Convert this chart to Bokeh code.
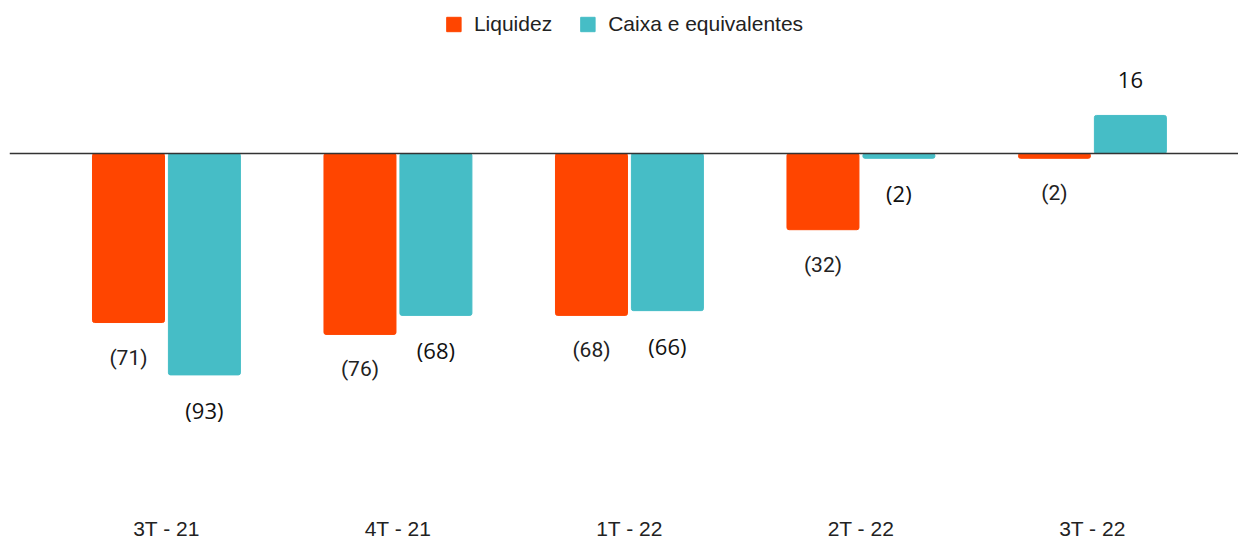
from bokeh.plotting import figure
from bokeh.models import ColumnDataSource, Span, Range1d, FixedTicker, Legend, LegendItem
from bokeh.core.properties import value
from bokeh.embed import file_html
from bokeh.resources import INLINE

categories = ["3T - 21", "4T - 21", "1T - 22", "2T - 22", "3T - 22"]
liquidez = [-71, -76, -68, -32, -2]
caixa = [-93, -68, -66, -2, 16]
series_names = ["Liquidez", "Caixa e equivalentes"]

ORANGE = "#FF4500"
CYAN = "#46BDC6"

def fmt(v):
    return f"({abs(v)})" if v < 0 else f"{v}"

W, H = 1238, 542
BORDER_BOTTOM = 46
frame_h = H - BORDER_BOTTOM
y_end = 153 / 2.38
y_start = y_end - frame_h / 2.39

p = figure(width=W, height=H, output_backend="svg", toolbar_location=None,
           x_range=Range1d(-0.678, 4.631), y_range=Range1d(y_start, y_end),
           min_border_left=9, min_border_right=0, min_border_top=0,
           min_border_bottom=BORDER_BOTTOM)
p.outline_line_color = None
p.xgrid.visible = False
p.ygrid.visible = False
p.yaxis.visible = False
p.background_fill_color = "white"
p.border_fill_color = "white"

xs = list(range(len(categories)))
off = 0.164
bw = 0.311
src = ColumnDataSource(dict(
    xo=[x - off for x in xs], xc=[x + off for x in xs],
    liq=liquidez, cx=caixa,
    liq_lbl=[fmt(v) for v in liquidez], cx_lbl=[fmt(v) for v in caixa],
    liq_off=[35 if v < 0 else -35 for v in liquidez],
    cx_off=[35 if v < 0 else -35 for v in caixa],
))

r1 = p.vbar(x="xo", top="liq", bottom=0, width=bw, color=ORANGE, border_radius=2, source=src)
r2 = p.vbar(x="xc", top="cx", bottom=0, width=bw, color=CYAN, border_radius=2, source=src)

p.add_layout(Span(location=0, dimension="width", line_color="#333333", line_width=1.5))

p.text(x="xo", y="liq", text="liq_lbl", y_offset="liq_off", source=src,
       text_align="center", text_baseline="middle",
       text_font=value("Roboto"), text_font_size="21px", text_color="#222222")
p.text(x="xc", y="cx", text="cx_lbl", y_offset="cx_off", source=src,
       text_align="center", text_baseline="middle",
       text_font=value("Open Sans"), text_font_size="22px", text_color="#111111")

legend = Legend(items=[LegendItem(label=series_names[0], renderers=[r1]),
                       LegendItem(label=series_names[1], renderers=[r2])],
                location="top_center", orientation="horizontal",
                border_line_color=None, background_fill_alpha=0,
                margin=12, padding=3, spacing=26, label_standoff=12,
                glyph_width=18, glyph_height=18, label_height=18,
                label_text_font="Liberation Sans", label_text_font_size="21px",
                label_text_color="#222222")
p.add_layout(legend)

ax = p.xaxis[0]
ax.ticker = FixedTicker(ticks=xs)
ax.major_label_overrides = {i: c for i, c in enumerate(categories)}
ax.axis_line_color = None
ax.major_tick_line_color = None
ax.minor_tick_line_color = None
ax.major_tick_out = 0
ax.major_tick_in = 0
ax.minor_tick_out = 0
ax.major_label_standoff = 22
ax.major_label_text_font = "Liberation Sans"
ax.major_label_text_font_size = "21px"
ax.major_label_text_color = "#222222"

open("out.html", "w").write(file_html(p, INLINE))
